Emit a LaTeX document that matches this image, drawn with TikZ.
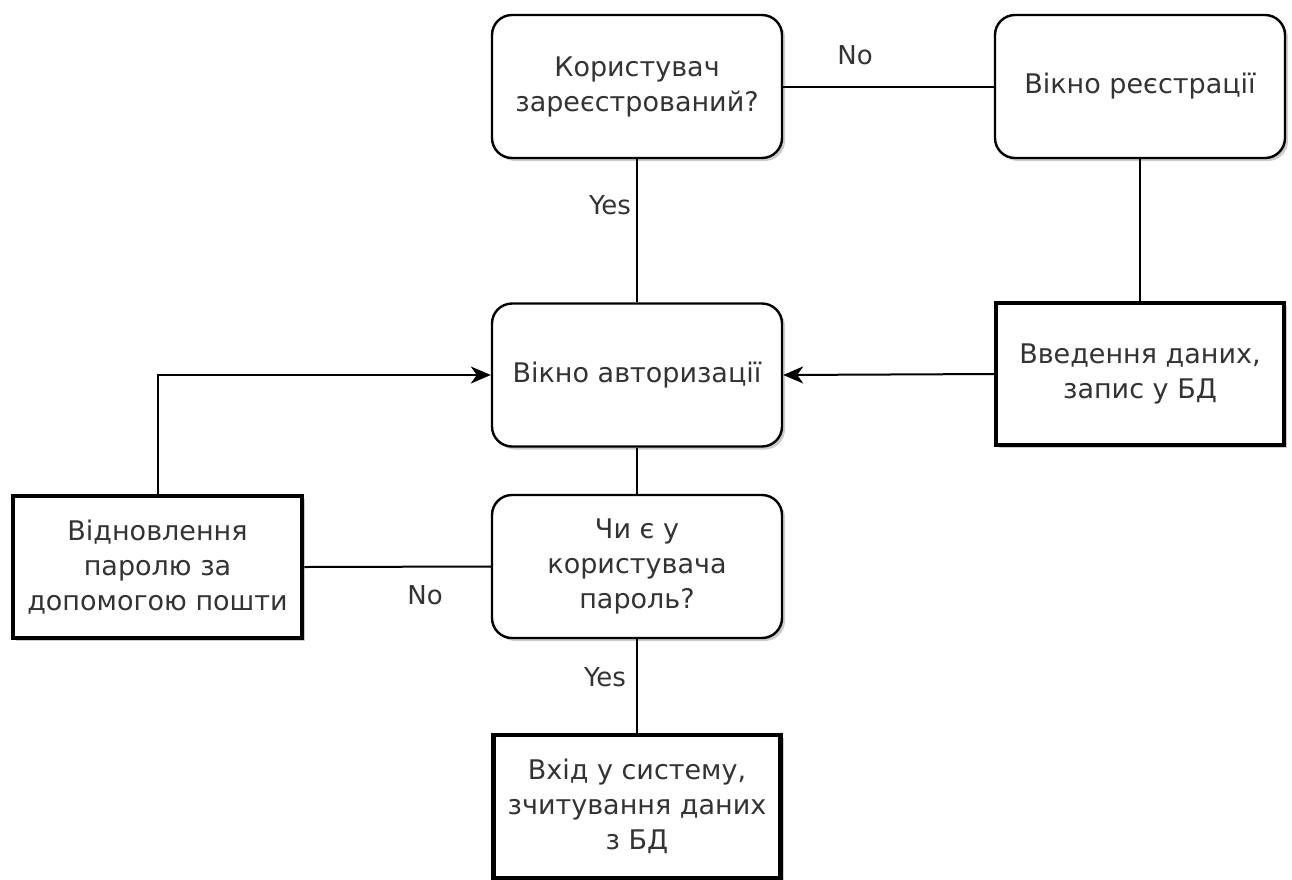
\documentclass[tikz,border=0pt]{standalone}
\usepackage{fontspec}
\setmainfont{DejaVu Sans}
\usetikzlibrary{arrows.meta,shadows}
\definecolor{txt}{HTML}{333333}
\begin{document}
\begin{tikzpicture}[x=1pt,y=-1pt,
  base/.style={draw=black, fill=white, minimum width=290pt, minimum height=143pt,
    align=center, text=txt, font=\fontsize{27}{35}\selectfont, inner sep=4pt,
    drop shadow={shadow xshift=3pt, shadow yshift=-3pt, opacity=0.4, fill=gray}},
  roundbox/.style={base, rounded corners=20pt, line width=2.4pt},
  thickbox/.style={base, line width=4.5pt},
  conn/.style={draw=black, line width=2pt},
  arr/.style={conn, -{Stealth[length=20pt,width=17pt,inset=6pt]}},
  lbl/.style={text=txt, font=\fontsize{26}{30}\selectfont}
]
\useasboundingbox (0,0) rectangle (1292,879);
\begin{scope}
\clip (0,0) rectangle (1292,879);
% decision and screen boxes
\node[roundbox] (reg)   at (637,86.5)  {Користувач\\зареєстрований?};
\node[roundbox] (regw)  at (1140,86.5) {Вікно реєстрації};
\node[roundbox] (auth)  at (637,375)   {Вікно авторизації};
\node[thickbox, minimum width=288pt, minimum height=142pt] (save) at (1140,374) {Введення даних,\\запис у БД};
\node[thickbox, minimum width=289pt, minimum height=142pt] (rec)  at (157.5,567) {Відновлення\\паролю за\\допомогою пошти};
\node[roundbox] (pass)  at (637,566.5) {Чи є у\\користувача\\пароль?};
\node[thickbox, minimum width=287pt] (login) at (637,806.5) {Вхід у систему,\\зчитування даних\\з БД};

% connectors
\draw[conn] (reg.east) -- (regw.west);
\draw[conn] (reg.south) -- (auth.north);
\draw[conn] (regw.south) -- (save.north);
\draw[arr] (save.west) -- (auth.east);
\draw[arr] (rec.north) |- (auth.west);
\draw[conn] (auth.south) -- (pass.north);
\draw[conn] (pass.west) -- (rec.east);
\draw[conn] (pass.south) -- (login.north);

% branch labels
\node[lbl] (no1)  at (855,55)  {No};
\node[lbl] (yes1) at (610,205) {Yes};
\node[lbl] (no2)  at (425,595) {No};
\node[lbl] (yes2) at (605,677) {Yes};
\end{scope}
\end{tikzpicture}
\end{document}
